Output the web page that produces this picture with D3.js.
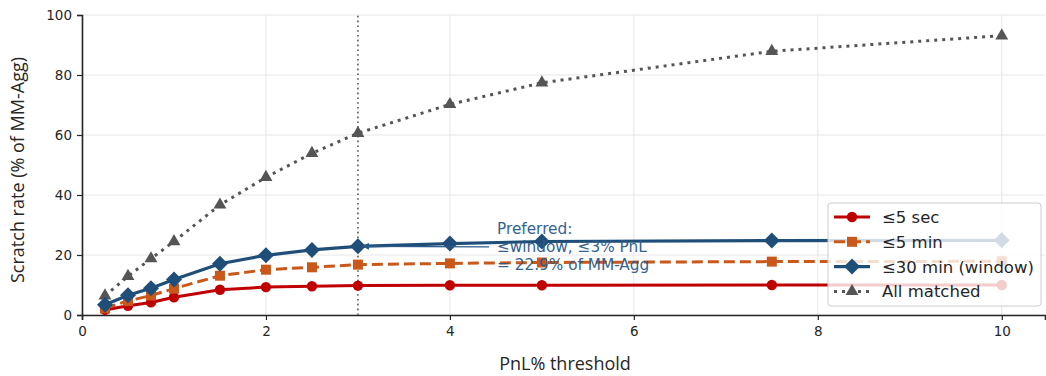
<!DOCTYPE html>
<html>
<head>
<meta charset="utf-8">
<script src="https://cdn.jsdelivr.net/npm/d3@7"></script>
<style>
  html, body { margin: 0; padding: 0; background: #fff; }
  svg { display: block; font-family: "DejaVu Sans", sans-serif; }
</style>
</head>
<body>
<svg id="chart" width="1046" height="376"></svg>
<script>
// PnL% thresholds evaluated
const thresholds = [0.25, 0.5, 0.75, 1, 1.5, 2, 2.5, 3, 4, 5, 7.5, 10];

// Scratch rate (% of MM-Agg) per matching horizon
const within5sec = [1.7, 3.1, 4.2, 5.9, 8.4, 9.3, 9.6, 9.8, 9.9, 9.9, 10.0, 10.0];
const within5min = [2.2, 4.7, 6.5, 8.8, 13.1, 15.1, 15.9, 16.8, 17.2, 17.5, 17.8, 17.9];
const within30min = [3.4, 6.6, 8.9, 11.8, 17.1, 19.9, 21.7, 22.9, 23.8, 24.5, 24.8, 24.9];
const allMatched = [6.4, 12.9, 18.8, 24.5, 36.7, 45.9, 53.9, 60.6, 70.2, 77.4, 87.9, 93.1];

const xTicks = [0, 2, 4, 6, 8, 10];
const yTicks = [0, 20, 40, 60, 80, 100];

const preferredThreshold = 3;
const preferredRate = 22.9;

const seriesNames = ["≤5 sec", "≤5 min", "≤30 min (window)", "All matched"];

const svg = d3.select("#chart");
const margin = { left: 82, right: 1, top: 15, bottom: 61 };
const W = 1046, H = 376;

const x = d3.scaleLinear().domain([0, 10.47]).range([margin.left, W - margin.right]);
const y = d3.scaleLinear().domain([0, 100]).range([H - margin.bottom, margin.top]);

// grid
const grid = svg.append("g");
grid.selectAll("line.gx").data(xTicks).join("line")
  .attr("x1", d => x(d)).attr("x2", d => x(d))
  .attr("y1", y(0)).attr("y2", y(100))
  .attr("stroke", "#e6e6e6").attr("stroke-width", 1);
grid.selectAll("line.gy").data(yTicks).join("line")
  .attr("x1", x(0)).attr("x2", W - margin.right)
  .attr("y1", d => y(d)).attr("y2", d => y(d))
  .attr("stroke", "#e6e6e6").attr("stroke-width", 1);

// axes
const xAxis = svg.append("g")
  .attr("transform", `translate(0,${y(0)})`)
  .call(d3.axisBottom(x).tickValues(xTicks).tickSize(5).tickPadding(6).tickFormat(d3.format("d")));
const yAxis = svg.append("g")
  .attr("transform", `translate(${x(0)},0)`)
  .call(d3.axisLeft(y).tickValues(yTicks).tickSize(5).tickPadding(5).tickFormat(d3.format("d")));
[xAxis, yAxis].forEach(a => {
  a.select(".domain").attr("stroke", "#262626").attr("stroke-width", 1.6);
  a.selectAll(".tick line").attr("stroke", "#262626").attr("stroke-width", 1.2);
  a.selectAll(".tick text").attr("fill", "#262626").style("font-size", "13.5px")
    .style("font-family", "DejaVu Sans, sans-serif");
});

// axis titles
svg.append("text").attr("x", 565).attr("y", 370)
  .attr("text-anchor", "middle").attr("fill", "#262626")
  .style("font-family", "'Open Sans', sans-serif")
  .style("font-size", "18px").text("PnL% threshold");
svg.append("text")
  .attr("transform", `translate(24,170) rotate(-90)`)
  .attr("text-anchor", "middle").attr("fill", "#262626")
  .style("font-family", "'Open Sans', sans-serif")
  .style("font-size", "18px").text("Scratch rate (% of MM-Agg)");

// preferred threshold marker
svg.append("line")
  .attr("x1", x(preferredThreshold)).attr("x2", x(preferredThreshold))
  .attr("y1", y(0)).attr("y2", y(100))
  .attr("stroke", "#555").attr("stroke-width", 1.6)
  .attr("stroke-dasharray", "1.6,3.2");

const diamond = {
  draw(ctx, size) {
    const r = Math.sqrt(size / 2);
    ctx.moveTo(0, -r); ctx.lineTo(r, 0); ctx.lineTo(0, r); ctx.lineTo(-r, 0); ctx.closePath();
  }
};

const series = [
  { name: seriesNames[0], values: within5sec, color: "#c00000", dash: null, marker: d3.symbolCircle, size: 85, width: 3 },
  { name: seriesNames[1], values: within5min, color: "#c9581a", dash: "11,5", marker: d3.symbolSquare, size: 100, width: 3 },
  { name: seriesNames[2], values: within30min, color: "#1f4e79", dash: null, marker: diamond, size: 128, width: 3.2 },
  { name: seriesNames[3], values: allMatched, color: "#555555", dash: "3,5", marker: d3.symbolTriangle, size: 72, width: 3 }
];

const line = d3.line().x(d => x(d[0])).y(d => y(d[1]));
const plot = svg.append("g");

// draw from back to front: all matched underneath
[series[3], series[0], series[1], series[2]].forEach(s => {
  const pts = thresholds.map((t, i) => [t, s.values[i]]);
  plot.append("path").datum(pts)
    .attr("d", line).attr("fill", "none")
    .attr("stroke", s.color).attr("stroke-width", s.width)
    .attr("stroke-dasharray", s.dash);
  plot.selectAll(null).data(pts).join("path")
    .attr("transform", d => `translate(${x(d[0])},${y(d[1])})`)
    .attr("d", d3.symbol().type(s.marker).size(s.size))
    .attr("fill", s.color);
});

// annotation for the preferred setting
const annColor = "#2b5a8a";
const ann = svg.append("g");
const defs = svg.append("defs");
defs.append("marker").attr("id", "arrowHead")
  .attr("viewBox", "0 0 10 10").attr("refX", 10).attr("refY", 5)
  .attr("markerWidth", 9).attr("markerHeight", 7).attr("orient", "auto-start-reverse")
  .attr("markerUnits", "userSpaceOnUse")
  .append("path").attr("d", "M0,0 L10,5 L0,10 z").attr("fill", annColor);
ann.append("line")
  .attr("x1", 489).attr("y1", y(preferredRate) + 0.5)
  .attr("x2", x(preferredThreshold) + 4).attr("y2", y(preferredRate))
  .attr("stroke", annColor).attr("stroke-width", 1.3)
  .attr("marker-end", "url(#arrowHead)");
const annText = ann.append("text").attr("x", 497).attr("y", 234)
  .attr("fill", annColor).style("font-size", "15.3px").attr("opacity", 0.95);
["Preferred:", "≤window, ≤3% PnL", "= 22.9% of MM-Agg"].forEach((t, i) => {
  annText.append("tspan").attr("x", 497).attr("dy", i === 0 ? 0 : 18).text(t);
});

// legend
const lg = svg.append("g").attr("transform", "translate(828,203)");
lg.append("rect").attr("width", 213).attr("height", 103).attr("rx", 3)
  .attr("fill", "rgba(255,255,255,0.8)").attr("stroke", "#cccccc").attr("stroke-width", 1);
series.forEach((s, i) => {
  const gy = 14 + i * 24.8;
  const g = lg.append("g").attr("transform", `translate(0,${gy})`);
  g.append("line").attr("x1", 6).attr("x2", 42).attr("y1", 0).attr("y2", 0)
    .attr("stroke", s.color).attr("stroke-width", s.width)
    .attr("stroke-dasharray", s.dash);
  g.append("path").attr("transform", "translate(24,0)")
    .attr("d", d3.symbol().type(s.marker).size(s.size)).attr("fill", s.color);
  g.append("text").attr("x", 54).attr("y", 6).attr("fill", "#262626")
    .style("font-size", "16.5px").text(s.name);
});
</script>
</body>
</html>
